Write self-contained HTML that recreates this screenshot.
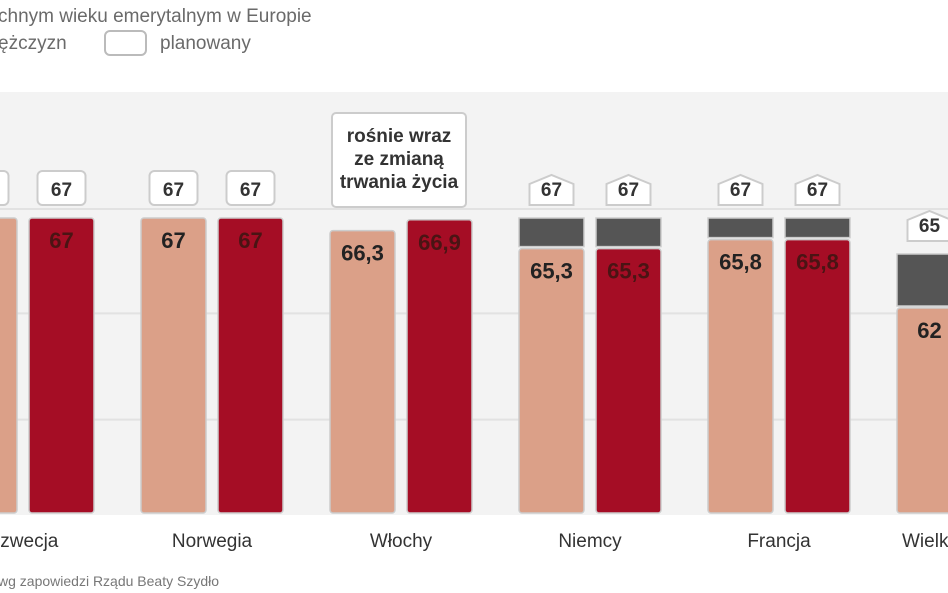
<!DOCTYPE html>
<html><head><meta charset="utf-8">
<style>
html,body{margin:0;padding:0;background:#fff;}
body{width:948px;height:593px;overflow:hidden;position:relative;font-family:"Liberation Sans",sans-serif;}
svg{position:absolute;left:0;top:0;}
.t{font-family:"Liberation Sans Narrow","Liberation Sans",sans-serif;}
</style></head>
<body>
<svg width="948" height="593" viewBox="0 0 948 593">
  <rect x="0" y="92" width="948" height="423" fill="#f3f3f3"/>
  <text x="-2" y="22" font-size="19" fill="#6a6a6a" class="t">chnym wieku emerytalnym w Europie</text>
  <text x="-2" y="49" font-size="19" fill="#6a6a6a" class="t">ężczyzn</text>
  <rect x="105" y="31" width="41" height="24" rx="5" fill="#fff" stroke="#bbb" stroke-width="2"/>
  <text x="160" y="49" font-size="19" fill="#6a6a6a" class="t">planowany</text>
  <text x="-2" y="586" font-size="14" fill="#777" class="t">wg zapowiedzi Rządu Beaty Szydło</text>
  <g id="grid"></g>
  <g id="bars"></g>
</svg>
<script>
const categories = ["Szwecja","Norwegia","Włochy","Niemcy","Francja","Wielka Brytania"];
const women = [67, 67, 66.3, 65.3, 65.8, 62];
const men = [67, 67, 66.9, 65.3, 65.8, 65];
const plannedWomen = [67, 67, null, 67, 67, 65];
const plannedMen = [67, 67, null, 67, 67, 65];
const womenLabels = ["67","67","66,3","65,3","65,8","62"];
const menLabels = ["67","67","66,9","65,3","65,8","65"];
const gridValues = [67.5, 61.7, 55.8];

const NS = "http://www.w3.org/2000/svg";
const baseY = 513;
function y(v){ return 218 + (67 - v) * 18; }
function groupX(i){ return -48 + i * 189; }
const barW = 65, pairGap = 12;
const grid = document.getElementById('grid');
const g = document.getElementById('bars');
function mk(tag, attrs, parent){
  const e = document.createElementNS(NS, tag);
  for (const k in attrs) e.setAttribute(k, attrs[k]);
  parent.appendChild(e);
  return e;
}
gridValues.forEach(v => {
  const l = mk('line', {x1:0, x2:948, y1:y(v), y2:y(v), stroke:'#e2e2e2', 'stroke-width':2}, grid);
  
  
});

function label(cx, yb, txt, house, name){
  let shape;
  if (house){
    const w = 44, top = yb - 30;
    shape = mk('path', {d:`M${cx-w/2} ${yb} L${cx-w/2} ${top+9} L${cx} ${top} L${cx+w/2} ${top+9} L${cx+w/2} ${yb} Z`, fill:'#fff', stroke:'#ccc', 'stroke-width':2}, g);
  } else {
    shape = mk('rect', {x:cx-24, y:yb-34, width:48, height:34, rx:5, fill:'#fff', stroke:'#ccc', 'stroke-width':2}, g);
  }
  
  
  const t = mk('text', {x:cx, y:yb-9, 'text-anchor':'middle', 'font-size':19, 'font-weight':'bold', fill:'#333', class:'t'}, g);
  t.textContent = txt;
  
  
}

categories.forEach((c, i) => {
  const x0 = groupX(i);
  const series = [
    {v:women[i], p:plannedWomen[i], lab:womenLabels[i], x:x0, fill:'#dba088', tc:'#222', n:'women'},
    {v:men[i], p:plannedMen[i], lab:menLabels[i], x:x0 + barW + pairGap, fill:'#a50d25', tc:'#4a1414', n:'men'}
  ];
  series.forEach(s => {
    const top = y(s.v);
    if (s.p !== null && s.p > s.v){
      const d = mk('rect', {x:s.x, y:y(s.p), width:barW, height:top - y(s.p) - 2, fill:'#555', stroke:'#ccc', 'stroke-width':1.5}, g);
      
      
    }
    const r = mk('rect', {x:s.x, y:top, width:barW, height:baseY - top, rx:3, fill:s.fill, stroke:'#ccc', 'stroke-width':1.5}, g);
    
    
    const t = mk('text', {x:s.x + barW/2, y:top + 30, 'text-anchor':'middle', 'font-size':22, 'font-weight':'bold', fill:s.tc, class:'t'}, g);
    t.textContent = s.lab;
    
    
    if (s.p !== null){
      label(s.x + barW/2, y(s.p) - 13, String(s.p), s.p > s.v, 'planned-label-' + s.n);
    }
  });
  if (plannedWomen[i] === null){
    const bx = x0, bw = barW*2 + pairGap - 8;
    const b = mk('rect', {x:bx + 2, y:113, width:bw, height:94, rx:4, fill:'#fff', stroke:'#ccc', 'stroke-width':2}, g);
    
    
    ['rośnie wraz','ze zmianą','trwania życia'].forEach((ln, k) => {
      const t = mk('text', {x:bx + 2 + bw/2, y:142 + k*23, 'text-anchor':'middle', 'font-size':19, 'font-weight':'bold', fill:'#333', class:'t'}, g);
      t.textContent = ln;
      
      
    });
  }
  const cl = mk('text', {x:x0 + barW + pairGap/2, y:547, 'text-anchor':'middle', 'font-size':19, fill:'#333', class:'t'}, g);
  cl.textContent = c;
  
  
});
</script>
</body></html>
